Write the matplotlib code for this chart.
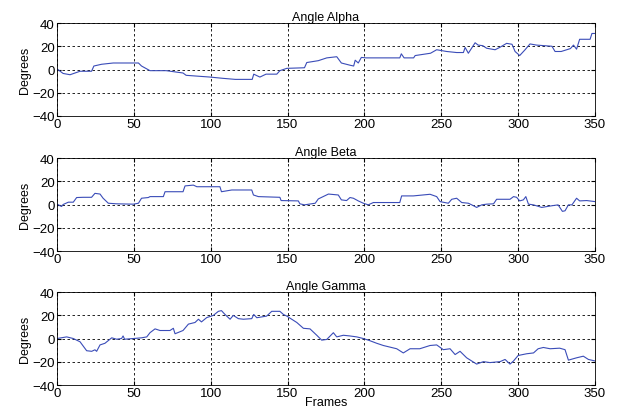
import matplotlib.pyplot as plt
import numpy as np

plt.rcParams['font.family'] = ['Liberation Sans', 'DejaVu Sans']

# values (frame, degrees)
alpha_f = [0, 4, 8.5, 15, 22.5, 24, 29, 36.6, 53, 55, 60.5, 71, 82, 84, 99.5, 108, 116, 127,
           128, 132, 136, 143, 145, 149.5, 161, 162.5, 170, 175.5, 182, 185, 190.6, 193, 194,
           196, 198, 201, 223, 224, 225.8, 232, 233, 243, 247, 253.5, 260, 264.4, 265.5, 267.6,
           272, 274, 277, 279.5, 285, 288, 292.5, 296, 298, 301, 304.5, 307.7, 312, 322, 324,
           328, 334, 336, 338, 340, 346.8, 348, 350]
alpha_v = [0.5, -3.4, -4.5, -1.5, -1.5, 3, 4.5, 5.6, 5.6, 3, -1, -1, -3, -5, -6.5, -7.6, -8.5,
           -8.5, -4, -6.5, -4, -4, -1, 1, 1.5, 6, 7.6, 10, 11, 5.6, 3.7, 3, 8, 5.6, 10.4, 10, 10,
           13.5, 10, 10, 12, 14, 17, 15.5, 14.6, 14.6, 19, 14, 23, 21, 20.5, 18.3, 17, 19, 22.5,
           21.7, 15.5, 12, 17, 22, 21, 20, 15.5, 15.5, 18, 21, 17.5, 26, 26, 31, 31]

beta_f = [0, 3, 4, 7.4, 10.6, 12.8, 17, 22.5, 24.7, 28, 30, 33.4, 38.8, 49.7, 53, 55, 59.4,
          60.5, 69.2, 70.3, 82, 83.3, 88.7, 91, 106, 107, 113.7, 126.7, 127.8, 131, 145, 145.8,
          157, 158, 161, 168, 170, 176.6, 183, 185, 188.4, 190.6, 192.8, 196, 199.3, 202.5,
          205.8, 223, 224.2, 231.8, 242.7, 247, 249.2, 254.6, 256.8, 260, 263.3, 267.6, 269.8,
          273, 276.3, 279.5, 284, 286, 294.7, 297, 299, 301, 303.4, 305, 306.7, 310, 315.3,
          321.8, 326, 328.8, 330.5, 332.7, 335, 338, 340, 344.6, 350]
beta_v = [0.3, -1.7, 0, 2, 2, 6, 6.2, 6.2, 9.6, 9, 5.4, 1.1, 0.6, 0.3, 1.1, 5.4, 6, 6.8, 6.8,
          11, 11, 16, 16.7, 15.3, 15.3, 11, 12.5, 12.5, 8.2, 6.8, 6.2, 3.4, 3.1, 0.6, -0.3, 1.1,
          4.8, 9, 8.2, 4, 3.4, 6, 5.4, 3.1, 1.1, -0.3, 1.7, 1.7, 7.4, 7.4, 8.8, 6.8, 2.5, 1.1,
          4.5, 5.4, 1.7, 1.1, -0.3, -2.5, -0.3, 0.3, 0.6, 4.5, 4.5, 6.8, 6.2, 3.1, 4, 6.8, 0.3,
          -0.3, -2.5, -1.1, -0.3, -5.9, -5.4, -0.3, -0.3, 5.4, 3.1, 3.4, 2.5]

gamma_f = [0, 6.3, 10.6, 15, 19.3, 22.6, 24.7, 25.8, 28, 31.2, 35.6, 38.8, 42, 43, 44, 49.7,
           55, 58.4, 60.5, 63.8, 67, 73.5, 75.7, 76.8, 82, 85.5, 89.8, 92, 94, 97.4, 101.7, 105,
           107, 109.3, 112.6, 114.7, 118, 121.3, 126.7, 128, 130, 136.4, 139.7, 145, 147.3,
           149.5, 156, 160.3, 164.6, 169, 172.2, 175.5, 179.8, 182, 186.3, 190.6, 195, 199.3,
           203.6, 208, 212.3, 221, 225.3, 229.7, 236, 242.7, 247, 251.3, 255.7, 259, 262.2,
           266.5, 273, 277.4, 281.7, 288.2, 291.5, 294.7, 297, 300, 305.6, 310, 313, 316.4,
           320.8, 327, 330.5, 332.7, 338, 342.4, 345.7, 350]
gamma_v = [0, 1.4, 0, -2.8, -10.5, -11, -9.7, -11, -5.5, -4.1, 0.6, -0.6, 0, 2.2, -0.6, 0, 0.6,
           1.4, 5, 8.3, 6.9, 6.9, 8.8, 4.1, 6.9, 12.4, 13.8, 16.6, 14.3, 18, 19.9, 23.4, 24, 20.7,
           16.6, 19.9, 17.1, 16.6, 17.1, 20.7, 17.9, 19.3, 23.4, 23.4, 20.7, 19.3, 13.8, 8.8, 8.3,
           2.8, -1.4, -0.8, 5, 1.4, 2.8, 2.2, 1.4, 0, -1.9, -4.1, -6, -8.8, -12.4, -8.8, -8.8, -6,
           -5.5, -9.6, -8.8, -13.8, -11, -16.6, -22, -19.9, -20.7, -19.9, -18, -22, -19.3, -14.6,
           -13.1, -12.4, -8.8, -7.7, -8.8, -8.3, -9.6, -18.6, -16.6, -15.2, -18, -19.3]

titles = ['Angle Alpha', 'Angle Beta', 'Angle Gamma']
series = [(alpha_f, alpha_v), (beta_f, beta_v), (gamma_f, gamma_v)]
bottoms = [0.7174, 0.3913, 0.0676]

fig = plt.figure(figsize=(6.18, 4.14), dpi=100)
for i in range(3):
    ax = fig.add_axes([0.0922, bottoms[i], 0.8706, 0.2246])
    f, v = series[i]
    ax.plot(f, v, color='#3a4cb8', linewidth=0.8)
    ax.set_xlim(0, 350)
    ax.set_ylim(-40, 40)
    ax.set_xticks(np.arange(0, 351, 50))
    ax.set_yticks([-40, -20, 0, 20, 40])
    ax.grid(True, color='black', linestyle=(0, (3, 3)), linewidth=0.6)
    ax.tick_params(direction='in', top=True, right=True, labelsize=9.5, length=3, pad=1.5)
    for s in ax.spines.values():
        s.set_linewidth(0.6)
    ax.set_title(titles[i], fontsize=9, pad=2)
    ax.set_ylabel('Degrees', fontsize=9, labelpad=1)
    if i == 2:
        ax.set_xlabel('Frames', fontsize=9, labelpad=-2)

plt.savefig('out.png', dpi=100)
